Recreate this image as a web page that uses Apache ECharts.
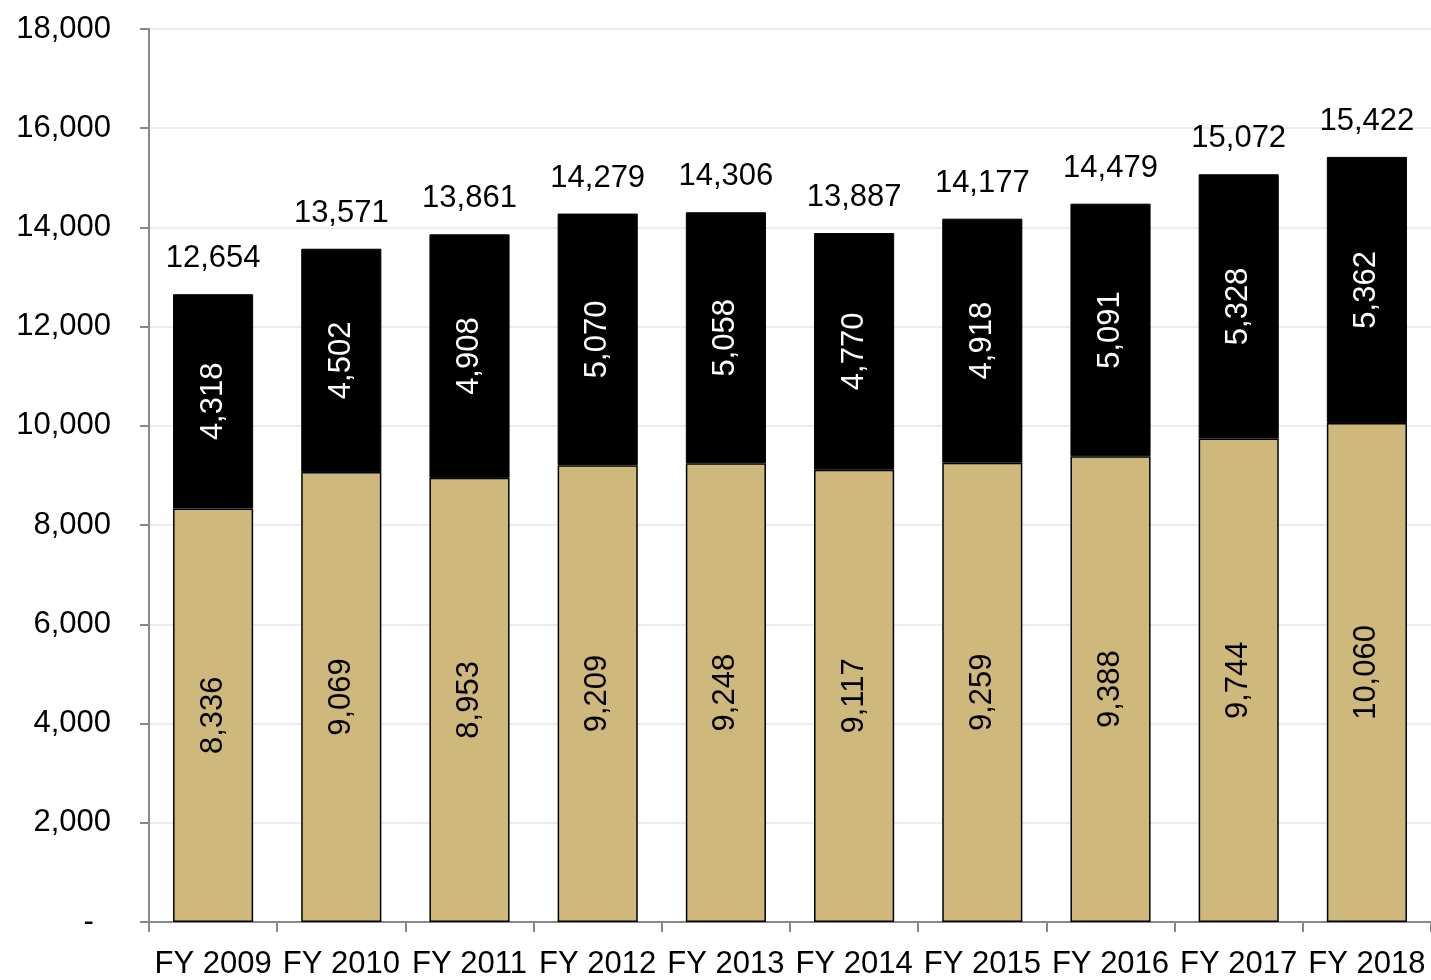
<!DOCTYPE html>
<html>
<head>
<meta charset="utf-8">
<script src="https://cdn.jsdelivr.net/npm/echarts@6/dist/echarts.min.js"></script>
<style>
  html, body { margin: 0; padding: 0; background: #fff; }
  #chart { width: 1431px; height: 980px; }
</style>
</head>
<body>
<div id="chart"></div>
<script>
const years = ["FY 2009", "FY 2010", "FY 2011", "FY 2012", "FY 2013", "FY 2014", "FY 2015", "FY 2016", "FY 2017", "FY 2018"]
const lowerValues = [8336, 9069, 8953, 9209, 9248, 9117, 9259, 9388, 9744, 10060]
const upperValues = [4318, 4502, 4908, 5070, 5058, 4770, 4918, 5091, 5328, 5362]
const totals = [12654, 13571, 13861, 14279, 14306, 13887, 14177, 14479, 15072, 15422]

const FONT = "Liberation Sans, Arial, Helvetica, sans-serif"
const fmt = (v) => v.toLocaleString("en-US")

const chart = echarts.init(document.getElementById("chart"))

chart.setOption({
  animation: false,
  grid: { left: 149, right: 0, top: 29, bottom: 57 },
  xAxis: {
    type: "category",
    data: years,
    axisLine: { lineStyle: { color: "#888", width: 2 } },
    axisTick: { show: true, alignWithLabel: false, length: 10, lineStyle: { color: "#888", width: 2 } },
    axisLabel: { color: "#000", fontSize: 31, fontFamily: FONT, margin: 27, interval: 0 },
  },
  yAxis: {
    type: "value",
    min: 0,
    max: 18000,
    interval: 2000,
    axisLine: { show: true, lineStyle: { color: "#888", width: 2 } },
    axisTick: { show: true, length: 9, lineStyle: { color: "#888", width: 2 } },
    splitLine: { lineStyle: { color: "#ececec", width: 2 } },
    axisLabel: {
      color: "#000",
      fontSize: 31,
      fontFamily: FONT,
      margin: 38,
      formatter: (v) => (v === 0 ? "-  " : fmt(v)),
    },
  },
  series: [
    {
      type: "bar",
      stack: "total",
      data: lowerValues,
      barWidth: "62.5%",
      itemStyle: { color: "#cfb87c", borderColor: "#000", borderWidth: 1.5 },
      label: {
        show: true,
        position: "inside",
        rotate: 90,
        color: "#000",
        fontSize: 31,
        fontFamily: FONT,
        formatter: (p) => fmt(p.value),
      },
    },
    {
      type: "bar",
      stack: "total",
      data: upperValues,
      itemStyle: { color: "#000", borderColor: "#000", borderWidth: 1 },
      label: {
        show: true,
        position: "inside",
        rotate: 90,
        color: "#fff",
        fontSize: 31,
        fontFamily: FONT,
        formatter: (p) => fmt(p.value),
      },
    },
    {
      type: "scatter",
      data: totals,
      symbolSize: 2,
      itemStyle: { color: "rgba(0,0,0,0)", opacity: 1 },
      label: {
        show: true,
        position: "top",
        distance: 19,
        color: "#000",
        fontSize: 31,
        fontFamily: FONT,
        formatter: (p) => fmt(p.value),
      },
    },
  ],
})
</script>
</body>
</html>
